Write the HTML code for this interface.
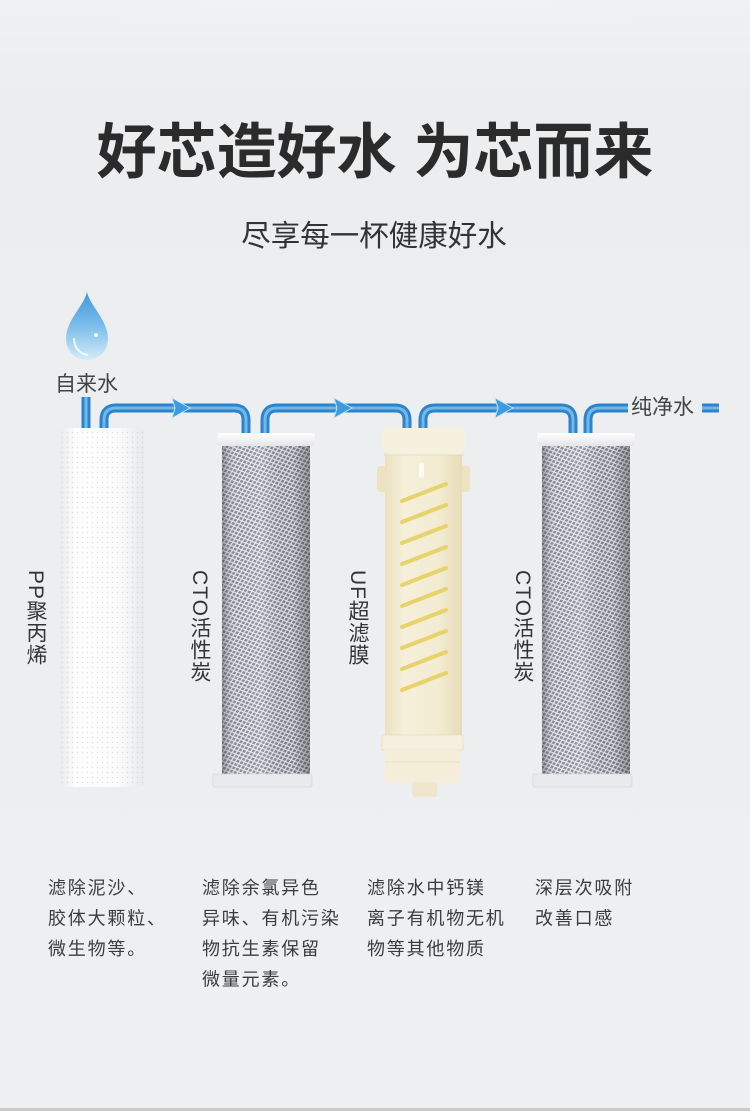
<!DOCTYPE html>
<html><head><meta charset="utf-8">
<style>
html,body{margin:0;padding:0;}
body{width:750px;height:1111px;position:relative;overflow:hidden;background:#edeef0;font-family:"Liberation Sans","Noto Sans CJK SC",sans-serif;}
svg{position:absolute;left:0;top:0;}
.v{position:absolute;writing-mode:vertical-rl;text-orientation:mixed;font-size:21px;line-height:21px;color:#333;font-family:"Liberation Sans","Noto Sans CJK SC",sans-serif;white-space:nowrap;letter-spacing:1px;}
</style></head>
<body>
<svg width="750" height="1111" viewBox="0 0 750 1111" xmlns="http://www.w3.org/2000/svg">
<defs>
  <linearGradient id="bg" x1="0" y1="0" x2="0" y2="1">
    <stop offset="0" stop-color="#f0f1f2"/>
    <stop offset="0.08" stop-color="#ecedef"/>
    <stop offset="0.6" stop-color="#eceef0"/>
    <stop offset="1" stop-color="#eff0f2"/>
  </linearGradient>
  <radialGradient id="glow" cx="0.5" cy="0" r="0.7">
    <stop offset="0" stop-color="#f3f4f5" stop-opacity="1"/>
    <stop offset="1" stop-color="#f3f4f5" stop-opacity="0"/>
  </radialGradient>
  <pattern id="mesh" width="6" height="5" patternUnits="userSpaceOnUse" patternTransform="rotate(-18)">
    <rect width="6" height="5" fill="#7c8089"/>
    <path d="M0,2.5 L3,0 L6,2.5 L3,5 Z" fill="none" stroke="#e6e8ec" stroke-width="1.2"/>
  </pattern>
  <linearGradient id="cyl" x1="0" y1="0" x2="1" y2="0">
    <stop offset="0" stop-color="#2e3038" stop-opacity="0.4"/>
    <stop offset="0.18" stop-color="#ffffff" stop-opacity="0.05"/>
    <stop offset="0.45" stop-color="#ffffff" stop-opacity="0.18"/>
    <stop offset="0.8" stop-color="#2e3038" stop-opacity="0.05"/>
    <stop offset="1" stop-color="#2e3038" stop-opacity="0.4"/>
  </linearGradient>
  <linearGradient id="ppcyl" x1="0" y1="0" x2="1" y2="0">
    <stop offset="0" stop-color="#e9eaec"/>
    <stop offset="0.2" stop-color="#ffffff"/>
    <stop offset="0.7" stop-color="#fbfbfb"/>
    <stop offset="1" stop-color="#e8e9eb"/>
  </linearGradient>
  <pattern id="dots" width="5" height="5" patternUnits="userSpaceOnUse">
    <circle cx="2.5" cy="2.5" r="0.7" fill="#c9cacd" opacity="0.6"/>
  </pattern>
  <linearGradient id="ufcyl" x1="0" y1="0" x2="1" y2="0">
    <stop offset="0" stop-color="#ece2c2"/>
    <stop offset="0.25" stop-color="#f6efda"/>
    <stop offset="0.7" stop-color="#f3ebd2"/>
    <stop offset="1" stop-color="#e7dcb9"/>
  </linearGradient>
  <linearGradient id="capg" x1="0" y1="0" x2="0" y2="1">
    <stop offset="0" stop-color="#ffffff"/>
    <stop offset="1" stop-color="#e4e5e8"/>
  </linearGradient>
  <linearGradient id="drop" x1="0" y1="0" x2="0" y2="1">
    <stop offset="0" stop-color="#3f97dc"/>
    <stop offset="0.5" stop-color="#7dbdea"/>
    <stop offset="1" stop-color="#d4ebf8"/>
  </linearGradient>
</defs>

<rect width="750" height="1111" fill="url(#bg)"/>
<ellipse cx="375" cy="0" rx="600" ry="80" fill="url(#glow)"/>
<rect x="0" y="1108" width="750" height="3" fill="#c9cacc"/>

<!-- title -->
<text x="375" y="173" text-anchor="middle" font-size="60" font-weight="700" fill="#2b2b2b" font-family="'Liberation Sans','Noto Sans CJK SC',sans-serif">好芯造好水 为芯而来</text>
<text x="374" y="246" text-anchor="middle" font-size="29.5" fill="#333" font-family="'Liberation Sans','Noto Sans CJK SC',sans-serif">尽享每一杯健康好水</text>

<!-- drop -->
<path d="M87,292 C90,306 108,320 108,339 A21,21 0 0 1 66,339 C66,320 84,306 87,292 Z" fill="url(#drop)"/>
<path d="M74,338 C74,348 80,354 88,355" fill="none" stroke="#ffffff" stroke-width="2" stroke-opacity="0.8"/>
<circle cx="96" cy="335" r="2" fill="#fff" opacity="0.9"/>

<text x="55" y="391" font-size="21" fill="#444" font-family="'Liberation Sans','Noto Sans CJK SC',sans-serif">自来水</text>
<text x="631" y="414" font-size="21" fill="#444" font-family="'Liberation Sans','Noto Sans CJK SC',sans-serif">纯净水</text>

<!-- pipes -->
<g fill="none" stroke-linecap="butt">
  <g stroke="#2d84cb" stroke-width="9">
    <path d="M86,397 V430"/>
    <path d="M104,430 V420 Q104,408 116,408 H234 Q246,408 246,420 V434"/>
    <path d="M265,434 V420 Q265,408 277,408 H395 Q407,408 407,420 V430"/>
    <path d="M423,430 V420 Q423,408 435,408 H561 Q573,408 573,420 V434"/>
    <path d="M588,434 V420 Q588,408 600,408 H628"/>
    <path d="M702,408 H719"/>
  </g>
  <g stroke="#8fd0f5" stroke-width="3" stroke-opacity="0.7">
    <path d="M86,397 V430"/>
    <path d="M104,430 V420 Q104,408 116,408 H234 Q246,408 246,420 V434"/>
    <path d="M265,434 V420 Q265,408 277,408 H395 Q407,408 407,420 V430"/>
    <path d="M423,430 V420 Q423,408 435,408 H561 Q573,408 573,420 V434"/>
    <path d="M588,434 V420 Q588,408 600,408 H628"/>
    <path d="M702,408 H719"/>
  </g>
</g>
<g fill="#3d9be0" stroke="#bfe3f8" stroke-width="1">
  <path d="M172,398 L190,408 L172,418 L175,408 Z"/>
  <path d="M334,398 L352,408 L334,418 L337,408 Z"/>
  <path d="M495,398 L513,408 L495,418 L498,408 Z"/>
</g>

<!-- PP filter -->
<rect x="60" y="428" width="84" height="359" rx="4" fill="url(#ppcyl)"/>
<rect x="60" y="428" width="84" height="359" rx="4" fill="url(#dots)"/>

<!-- CTO filter 1 -->
<rect x="222" y="444" width="88" height="332" fill="url(#mesh)"/>
<rect x="222" y="444" width="88" height="332" fill="url(#cyl)"/>
<rect x="217" y="433" width="98" height="13" rx="3" fill="url(#capg)"/>
<rect x="213" y="774" width="99" height="13" rx="2" fill="#e9eaed" stroke="#d6d7da" stroke-width="0.8"/>

<!-- CTO filter 2 -->
<rect x="542" y="444" width="88" height="332" fill="url(#mesh)"/>
<rect x="542" y="444" width="88" height="332" fill="url(#cyl)"/>
<rect x="537" y="433" width="98" height="13" rx="3" fill="url(#capg)"/>
<rect x="533" y="774" width="99" height="13" rx="2" fill="#e9eaed" stroke="#d6d7da" stroke-width="0.8"/>

<!-- UF filter -->
<rect x="377" y="466" width="10" height="26" rx="3" fill="#ede3c3"/>
<rect x="460" y="466" width="10" height="26" rx="3" fill="#ede3c3"/>
<rect x="385" y="452" width="77" height="285" fill="url(#ufcyl)"/>
<rect x="383" y="428" width="82" height="27" rx="7" fill="#f6f0de"/>
<line x1="384" y1="455" x2="464" y2="455" stroke="#e5dcbf" stroke-width="1"/>
<rect x="419" y="463" width="5" height="15" rx="2.5" fill="#fdfbf4"/>
<g stroke="#e6d36a" stroke-width="4" stroke-linecap="round">
  <path d="M402,501 L446,484"/>
  <path d="M402,522 L446,505"/>
  <path d="M402,543 L446,526"/>
  <path d="M402,564 L446,547"/>
  <path d="M402,585 L446,568"/>
  <path d="M402,606 L446,589"/>
  <path d="M402,627 L446,610"/>
  <path d="M402,648 L446,631"/>
  <path d="M402,669 L446,652"/>
  <path d="M402,690 L446,673"/>
</g>
<rect x="382" y="735" width="81" height="15" fill="#f5efdf" stroke="#e6dcc0" stroke-width="0.8"/>
<rect x="385" y="750" width="75" height="32" fill="#f4edda"/>
<line x1="385" y1="762" x2="460" y2="762" stroke="#e8dfc4" stroke-width="1"/>
<rect x="412" y="782" width="25" height="15" rx="3" fill="#efe6cb"/>

<!-- bottom descriptions -->
<g font-size="18" fill="#3c3c3c" letter-spacing="1.8" font-family="'Liberation Sans','Noto Sans CJK SC',sans-serif">
  <text x="48" y="894">滤除泥沙、</text>
  <text x="48" y="924.5">胶体大颗粒、</text>
  <text x="48" y="955">微生物等。</text>

  <text x="202" y="894">滤除余氯异色</text>
  <text x="202" y="924.5">异味、有机污染</text>
  <text x="202" y="955">物抗生素保留</text>
  <text x="202" y="985.5">微量元素。</text>

  <text x="367" y="894">滤除水中钙镁</text>
  <text x="367" y="924.5">离子有机物无机</text>
  <text x="367" y="955">物等其他物质</text>

  <text x="535" y="894">深层次吸附</text>
  <text x="535" y="924.5">改善口感</text>
</g>
</svg>

<div class="v" style="left:25px;top:570px;">PP聚丙烯</div>
<div class="v" style="left:189px;top:570px;">CTO活性炭</div>
<div class="v" style="left:347px;top:570px;">UF超滤膜</div>
<div class="v" style="left:512px;top:570px;">CTO活性炭</div>
</body></html>
